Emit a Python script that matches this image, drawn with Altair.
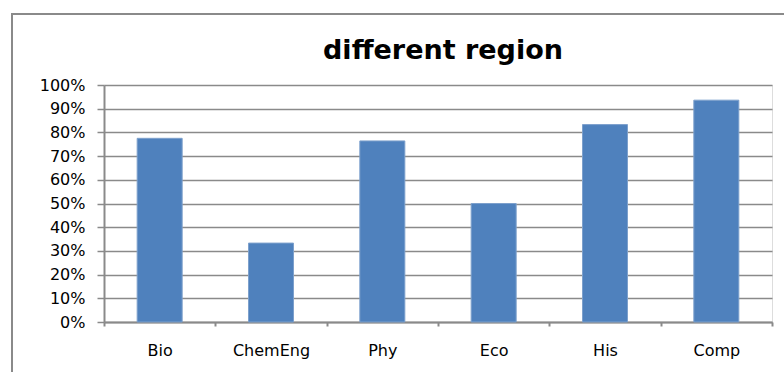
import altair as alt
import pandas as pd

categories = ["Bio", "ChemEng", "Phy", "Eco", "His", "Comp"]
values = [0.775, 0.333, 0.764, 0.50, 0.833, 0.936]
y_ticks = [0, 0.1, 0.2, 0.3, 0.4, 0.5, 0.6, 0.7, 0.8, 0.9, 1.0]
title_text = "different region"

df = pd.DataFrame({"cat": categories, "val": values})

FONT = "DejaVu Sans"
GRAY = "#8A8A8A"

frame = alt.Chart(alt.Data(values=[{"k": 1}])).mark_rect(
    filled=False, stroke=GRAY, strokeWidth=2
).encode(
    x=alt.value(-92), x2=alt.value(720), y=alt.value(-71), y2=alt.value(400)
)

title = alt.Chart(alt.Data(values=[{"t": title_text}])).mark_text(
    font=FONT, fontSize=27, fontWeight="bold", color="black",
    align="center", baseline="alphabetic"
).encode(
    text="t:N", x=alt.value(339), y=alt.value(-26)
)

bars = alt.Chart(df).mark_bar(
    color="#4F81BD", stroke="#7DA0CC", strokeWidth=1, size=45
).encode(
    x=alt.X("cat:N", sort=categories, title=None,
            scale=alt.Scale(paddingInner=0, paddingOuter=0),
            axis=alt.Axis(labelAngle=0, tickBand="extent", grid=False,
                          domainColor=GRAY, domainWidth=2,
                          tickColor=GRAY, tickWidth=2, tickSize=4,
                          labelFont=FONT, labelFontSize=16, labelColor="black",
                          labelPadding=16)),
    y=alt.Y("val:Q", title=None,
            scale=alt.Scale(domain=[0, 1], nice=False),
            axis=alt.Axis(values=y_ticks, format=".0%", grid=True,
                          gridColor=GRAY, gridWidth=1.5,
                          domainColor=GRAY, domainWidth=2,
                          tickColor=GRAY, tickWidth=1.5, tickSize=7,
                          labelFont=FONT, labelFontSize=16, labelColor="black",
                          labelPadding=12)),
)

chart = alt.layer(frame, title, bars).properties(
    width=668, height=237,
    autosize=alt.AutoSizeParams(type="none"),
    padding={"left": 104, "top": 85, "right": 12, "bottom": 50},
).configure_view(stroke=None).configure(background="white")

chart.save("out.html", embed_options={"renderer": "svg", "actions": False})
